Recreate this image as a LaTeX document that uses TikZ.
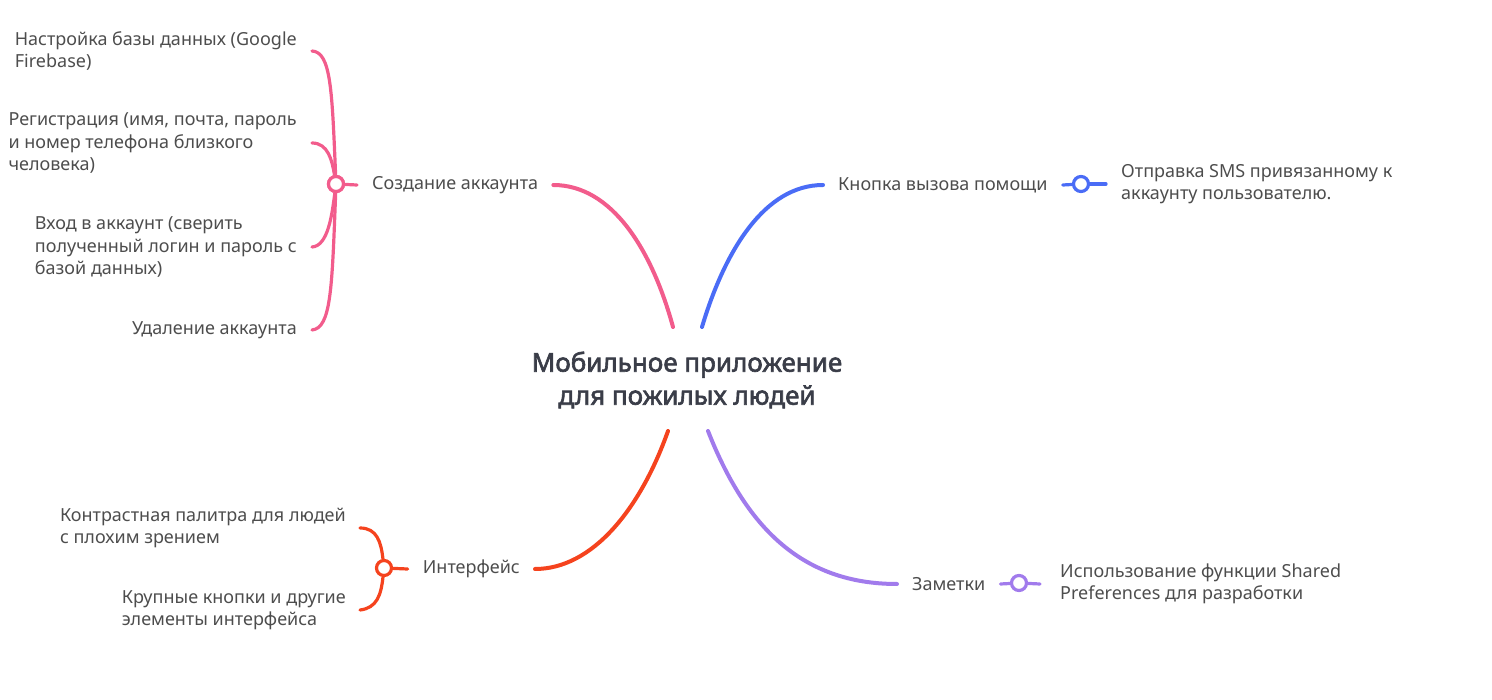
\documentclass[tikz,border=0pt]{standalone}
\usepackage{fontspec}
\setmainfont{Noto Sans}
\newfontfamily\titlefont{Noto Sans}[AutoFakeBold=2.4]
\definecolor{pinkc}{HTML}{F25C8C}
\definecolor{bluec}{HTML}{4A6CF6}
\definecolor{redc}{HTML}{F5431E}
\definecolor{purpc}{HTML}{A17BEC}
\definecolor{txt}{HTML}{4D4D4D}
\definecolor{ttl}{HTML}{3A3D48}
\begin{document}
\begin{tikzpicture}[x=1pt,y=-1pt,
 leaf/.style={font=\fontsize{18}{22.5}\selectfont, text=txt, align=left, inner sep=0pt},
 branch/.style={font=\fontsize{18}{22.5}\selectfont, text=txt, inner xsep=15pt, inner ysep=2pt},
 dot/.style={circle, draw=#1, fill=white, line width=3.2pt, minimum size=15pt, inner sep=0pt},
 main/.style={line width=4pt, line cap=round, draw=#1},
 sub/.style={line width=3.2pt, line cap=round, draw=#1},
]
\useasboundingbox (0,0) rectangle (1492,700);

% central topic
\node[font=\titlefont\fontsize{26}{33}\selectfont\bfseries, text=ttl, align=center] (title) at (687,380) {Мобильное приложение\\для пожилых людей};
\coordinate (c1) at (673,327);
\coordinate (c2) at (702,327);
\coordinate (c3) at (668,431);
\coordinate (c4) at (708,431);

% branch: account
\node[branch, anchor=west] (create) at (357,185) {Создание аккаунта};
\node[dot=pinkc] (pc) at (336,184) {};
\node[leaf, anchor=east] (l1) at (297,51) {Настройка базы данных (Google\\Firebase)};
\node[leaf, anchor=east] (l2) at (297,143) {Регистрация (имя, почта, пароль\\и номер телефона близкого\\человека)};
\node[leaf, anchor=east] (l3) at (297,247) {Вход в аккаунт (сверить\\полученный логин и пароль с\\базой данных)};
\node[leaf, anchor=east] (l4) at (297,330) {Удаление аккаунта};

\draw[main=pinkc] (create.east) .. controls (612,185) and (652,250) .. (c1);
\draw[sub=pinkc] (pc) -- (create.west);
\draw[sub=pinkc] (pc) .. controls (332,90) and (331,52) .. ([xshift=15pt]l1.east);
\draw[sub=pinkc] (pc) .. controls (332,160) and (328,143) .. ([xshift=15pt]l2.east);
\draw[sub=pinkc] (pc) .. controls (332,215) and (328,246) .. ([xshift=15pt]l3.east);
\draw[sub=pinkc] (pc) .. controls (332,290) and (331,328) .. ([xshift=15pt]l4.east);
\node[dot=pinkc] at (pc) {};

% branch: help button
\node[branch, anchor=west] (help) at (823,185) {Кнопка вызова помощи};
\node[dot=bluec] (bc) at (1081,184) {};
\node[leaf, anchor=west] (sms) at (1121,184) {Отправка SMS привязанному к\\аккаунту пользователю.};
\draw[main=bluec] (c2) .. controls (725,250) and (765,185) .. (help.west);
\draw[sub=bluec] (help.east) -- (bc);
\draw[sub=bluec] (bc) -- ([xshift=-15pt]sms.west);

% branch: interface
\node[branch, anchor=east] (ui) at (535,569) {Интерфейс};
\node[dot=redc] (rc) at (384,568) {};
\node[leaf, anchor=east] (r1) at (346,528) {Контрастная палитра для людей\\с плохим зрением};
\node[leaf, anchor=east] (r2) at (346,610) {Крупные кнопки и другие\\элементы интерфейса};
\draw[main=redc] (c3) .. controls (640,510) and (592,569) .. (ui.east);
\draw[sub=redc] (rc) -- (ui.west);
\draw[sub=redc] (rc) .. controls (381,542) and (377,528) .. ([xshift=14pt]r1.east);
\draw[sub=redc] (rc) .. controls (381,595) and (377,608) .. ([xshift=14pt]r2.east);

% branch: notes
\node[branch, anchor=west] (notes) at (897,584) {Заметки};
\node[dot=purpc] (nc) at (1019,583) {};
\node[leaf, anchor=west] (pref) at (1060,584) {Использование функции Shared\\Preferences для разработки};
\draw[main=purpc] (c4) .. controls (745,525) and (800,584) .. (notes.west);
\draw[sub=purpc] (notes.east) -- (nc);
\draw[sub=purpc] (nc) -- ([xshift=-20pt]pref.west);
\end{tikzpicture}
\end{document}
